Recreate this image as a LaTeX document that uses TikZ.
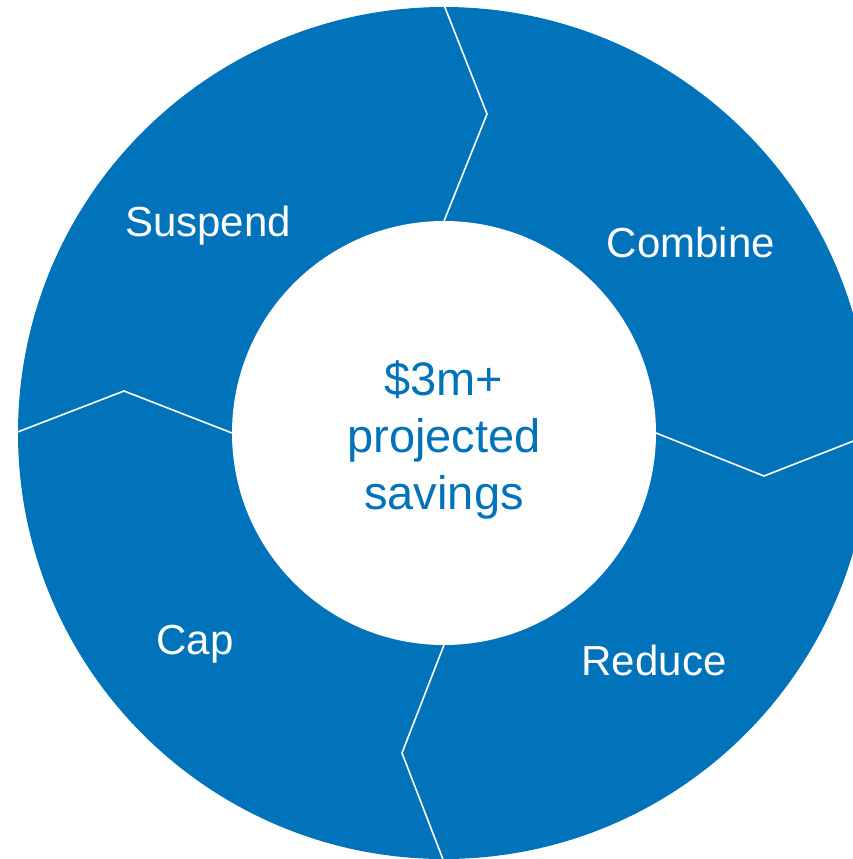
\documentclass[tikz,border=0pt]{standalone}
\usepackage{fontspec}
\setmainfont{Liberation Sans}
\definecolor{ringblue}{RGB}{0,115,187}
\tikzset{
  label/.style={text=white, font=\fontsize{42}{50}\selectfont, anchor=base, inner sep=0pt},
  divider/.style={draw=white, line width=1.6pt, line join=miter},
}
\begin{document}
\begin{tikzpicture}[x=1pt,y=-1pt]
\useasboundingbox (0,0) rectangle (853,859);
\clip (0,0) rectangle (853,859);
\coordinate (c) at (444,433);
\fill[ringblue] (c) circle[radius=426];
\fill[white] (c) circle[radius=212];
% divider points
\coordinate (t1) at (444,221); \coordinate (t2) at (487,114); \coordinate (t3) at (444,5);
\coordinate (r1) at (656,433); \coordinate (r2) at (764,476); \coordinate (r3) at (874,433);
\coordinate (b1) at (444,645); \coordinate (b2) at (402,753); \coordinate (b3) at (444,862);
\coordinate (l1) at (232,433); \coordinate (l2) at (124,391); \coordinate (l3) at (15,433);
\draw[divider] (t1) -- (t2) -- (t3);
\draw[divider] (r1) -- (r2) -- (r3);
\draw[divider] (b1) -- (b2) -- (b3);
\draw[divider] (l1) -- (l2) -- (l3);
\node[label] (suspend) at (208,236) {Suspend};
\node[label] (combine) at (691,257) {Combine};
\node[label] (reduce) at (654,675) {Reduce};
\node[label] (cap) at (195,654) {Cap};
\node[text=ringblue, font=\fontsize{47}{57}\selectfont, align=center, anchor=center, inner sep=0pt] (hub) at (444,440) {\$3m+\\projected\\savings};
\end{tikzpicture}
\end{document}
